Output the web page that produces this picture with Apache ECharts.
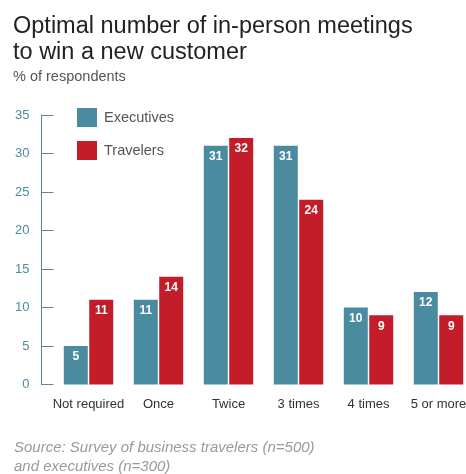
<!DOCTYPE html>
<html>
<head>
<meta charset="utf-8">
<script src="https://cdn.jsdelivr.net/npm/echarts@6/dist/echarts.min.js"></script>
<style>
  html, body { margin: 0; padding: 0; background: #fff; }
  #chart { width: 466px; height: 474px; }
</style>
</head>
<body>
<div id="chart"></div>
<script>
// Number of meetings answered
const categories = ['Not required', 'Once', 'Twice', '3 times', '4 times', '5 or more'];
// Share of respondents, %
const executives = [5, 11, 31, 31, 10, 12];
const travelers = [11, 14, 32, 24, 9, 9];
const yTicks = { min: 0, max: 35, step: 5 };

const FONT = '"Liberation Sans", Arial, Helvetica, sans-serif';
const AXIS_COLOR = '#4f8b9d';

const chart = echarts.init(document.getElementById('chart'), null, { renderer: 'canvas' });

const barLabel = {
  show: true,
  position: 'insideTop',
  distance: 5,
  color: '#ffffff',
  fontFamily: FONT,
  fontWeight: 'bold',
  fontSize: 12
};

chart.setOption({
  backgroundColor: '#ffffff',
  animation: false,
  title: [
    {
      text: 'Optimal number of in-person meetings\nto win a new customer',
      left: 8, top: 9,
      textStyle: { fontFamily: FONT, fontSize: 23.5, fontWeight: 'normal', color: '#222222', lineHeight: 26 }
    },
    {
      text: '% of respondents',
      left: 8, top: 64,
      textStyle: { fontFamily: FONT, fontSize: 14.5, fontWeight: 'normal', color: '#555555' }
    },
    {
      text: 'Source: Survey of business travelers (n=500)\nand executives (n=300)',
      left: 9, top: 433,
      textStyle: { fontFamily: FONT, fontSize: 15, fontStyle: 'italic', fontWeight: 'normal', color: '#9a9a9a', lineHeight: 19.5 }
    }
  ],
  legend: {
    orient: 'vertical',
    left: 72, top: 103,
    padding: 5,
    icon: 'rect',
    itemWidth: 20, itemHeight: 19, itemGap: 14,
    textStyle: { fontFamily: FONT, fontSize: 14.5, color: '#555555', padding: [0, 0, 0, 2] },
    data: ['Executives', 'Travelers']
  },
  grid: { left: 53.5, top: 115, width: 420, height: 269.5, outerBoundsMode: 'none', containLabel: false },
  xAxis: {
    type: 'category',
    data: categories,
    axisLine: { show: false },
    axisTick: { show: false },
    axisLabel: { fontFamily: FONT, fontSize: 13, color: '#333333', margin: 13, interval: 0 }
  },
  yAxis: {
    type: 'value',
    min: yTicks.min, max: yTicks.max, interval: yTicks.step,
    offset: 12,
    axisLine: { show: true, lineStyle: { color: AXIS_COLOR, width: 1 } },
    axisTick: { show: true, inside: true, length: 12, lineStyle: { color: AXIS_COLOR, width: 1 } },
    axisLabel: { fontFamily: FONT, fontSize: 13, color: AXIS_COLOR, margin: 12 },
    splitLine: { show: false }
  },
  series: [
    {
      name: 'Executives',
      type: 'bar',
      data: executives,
      barWidth: 24,
      barGap: '6%',
      itemStyle: { color: '#4b8ba0' },
      label: barLabel
    },
    {
      name: 'Travelers',
      type: 'bar',
      data: travelers,
      barWidth: 24,
      barGap: '6%',
      itemStyle: { color: '#c21d28' },
      label: barLabel
    }
  ]
});
</script>
</body>
</html>
